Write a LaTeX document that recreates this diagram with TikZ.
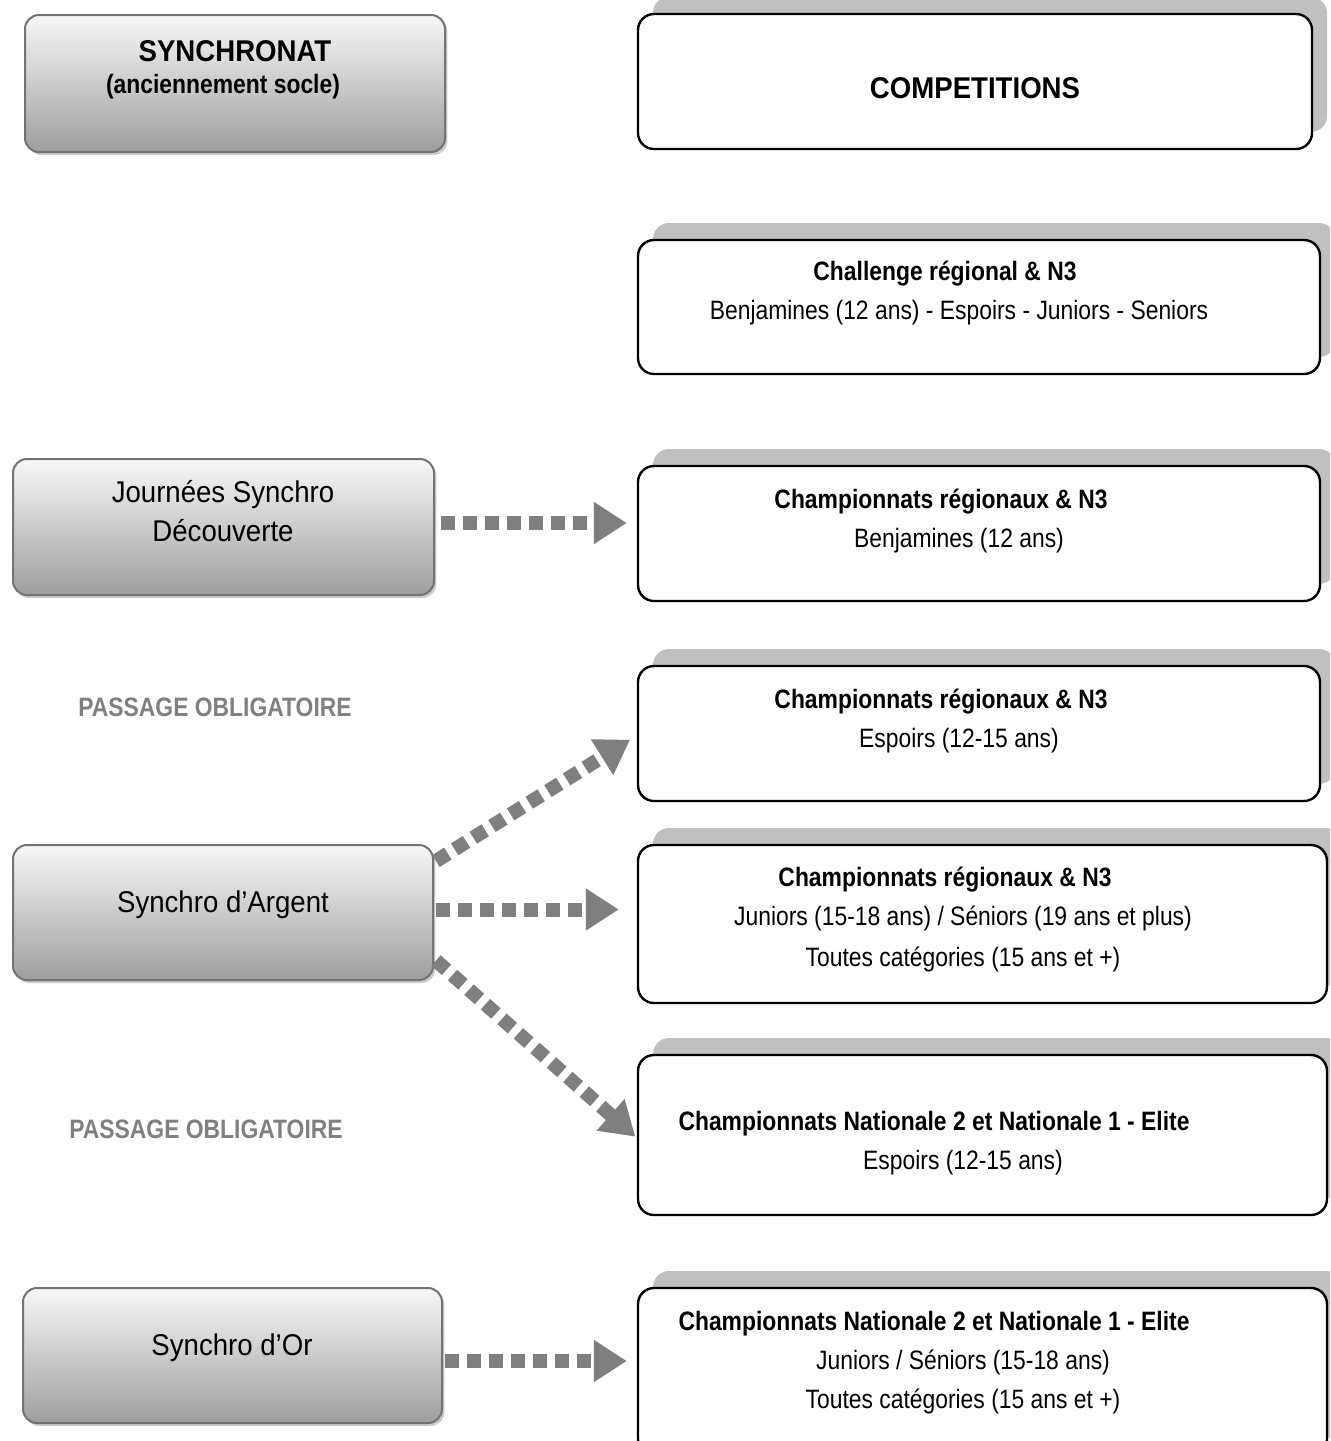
\documentclass[tikz,border=0pt]{standalone}
\usepackage{fontspec}
\setmainfont{Liberation Sans}[FakeStretch=0.86]
\newfontfamily\bigfont{Liberation Sans}[FakeStretch=0.92]
\usetikzlibrary{arrows.meta,shadows,calc}
\definecolor{arrowgray}{HTML}{7F7F7F}
\definecolor{shadowgray}{HTML}{C0C0C0}
\definecolor{passgray}{HTML}{808080}
\tikzset{
  leftbox/.style={draw=black!55, line width=1pt, rounded corners=7pt,
    top color=black!3, bottom color=black!38,
    drop shadow={shadow xshift=1.2pt, shadow yshift=-1.5pt, fill=black!40, opacity=0.5},
    inner sep=0pt},
  rightbox/.style={draw=black, line width=1.2pt, fill=white, rounded corners=8pt,
    general shadow={shadow xshift=7.5pt, shadow yshift=8.5pt, fill=shadowgray},
    inner sep=0pt},
  hd/.style={font=\bfseries\fontsize{13.3}{15}\selectfont, inner sep=0pt},
  tx/.style={font=\fontsize{13.3}{15}\selectfont, inner sep=0pt},
  lt/.style={font=\bigfont\fontsize{15}{17}\selectfont, inner sep=0pt},
  bt/.style={font=\bigfont\bfseries\fontsize{15}{17}\selectfont, inner sep=0pt},
  pass/.style={font=\bfseries\fontsize{13.3}{15}\selectfont, text=passgray, inner sep=0pt},
  arr/.style={draw=arrowgray, line width=7pt, dash pattern=on 7pt off 4pt,
    -{Triangle[length=16.5pt,width=20pt]}}
}
\begin{document}
\begin{tikzpicture}[x=0.5pt,y=-0.5pt]
\clip (0,0) rectangle (1330,1441);
\fill[white] (0,0) rectangle (1330,1441);
% left boxes
\node[leftbox, minimum width=210pt, minimum height=68.5pt] (sync) at (235,83.5) {};
\node[leftbox, minimum width=210.5pt, minimum height=68pt] (journ) at (223.5,527) {};
\node[leftbox, minimum width=210pt, minimum height=67.5pt] (arg) at (223,912.5) {};
\node[leftbox, minimum width=209.5pt, minimum height=67.5pt] (or) at (232.5,1355.5) {};
% right boxes
\node[rightbox, minimum width=337pt, minimum height=67.5pt] (comp) at (975,81.5) {};
\node[rightbox, minimum width=341pt, minimum height=67pt] (chal) at (979,307) {};
\node[rightbox, minimum width=341pt, minimum height=67.5pt] (benj) at (979,533.5) {};
\node[rightbox, minimum width=341pt, minimum height=67.5pt] (esp) at (979,733.5) {};
\node[rightbox, minimum width=344.5pt, minimum height=79pt] (jun) at (982.5,924) {};
\node[rightbox, minimum width=344.5pt, minimum height=80pt] (nat) at (982.5,1135) {};
\node[rightbox, minimum width=344.5pt, minimum height=83.5pt] (nattwo) at (982.5,1371.5) {};
% left texts
\node[bt] (t1) at (235,51) {SYNCHRONAT};
\node[hd] (t2) at (223,87) {(anciennement socle)};
\node[lt] (t3) at (223,495) {Journées Synchro};
\node[lt] (t4) at (223,531) {Découverte};
\node[lt] (t5) at (223,905) {Synchro d’Argent};
\node[lt] (t6) at (232,1348) {Synchro d’Or};
\node[pass] (p1) at (215,707) {PASSAGE OBLIGATOIRE};
\node[pass] (p2) at (206,1129) {PASSAGE OBLIGATOIRE};
% right texts
\node[bt] (c0) at (975,88) {COMPETITIONS};
\node[hd] (c1) at (945,274) {Challenge régional \& N3};
\node[tx] (c2) at (959,313) {Benjamines (12 ans) - Espoirs - Juniors - Seniors};
\node[hd] (b1) at (941,502) {Championnats régionaux \& N3};
\node[tx] (b2) at (959,541) {Benjamines (12 ans)};
\node[hd] (e1) at (941,702) {Championnats régionaux \& N3};
\node[tx] (e2) at (959,741) {Espoirs (12-15 ans)};
\node[hd] (j1) at (945,880) {Championnats régionaux \& N3};
\node[tx] (j2) at (963,918) {Juniors (15-18 ans) / Séniors (19 ans et plus)};
\node[tx] (j3) at (963,959) {Toutes catégories (15 ans et +)};
\node[hd] (n1) at (934,1124) {Championnats Nationale 2 et Nationale 1 - Elite};
\node[tx] (n2) at (963,1163) {Espoirs (12-15 ans)};
\node[hd] (m1) at (934,1324) {Championnats Nationale 2 et Nationale 1 - Elite};
\node[tx] (m2) at (963,1362) {Juniors / Séniors (15-18 ans)};
\node[tx] (m3) at (963,1401) {Toutes catégories (15 ans et +)};
% arrows
\coordinate (a1) at ($(journ.east)+(6,-4)$);
\draw[arr, shorten >=5pt] (a1) -- (a1 -| benj.west);
\coordinate (a2) at ($(arg.north east)+(2,17)$);
\draw[arr, shorten >=4pt] (a2) -- ($(esp.west)+(0,2)$);
\coordinate (a3) at ($(arg.east)+(2,-3)$);
\draw[arr, shorten >=9pt] (a3) -- (a3 -| jun.west);
\coordinate (a4) at ($(arg.east)+(2,48)$);
\draw[arr, shorten >=1pt] (a4) -- ($(nat.west)+(0,3)$);
\coordinate (a5) at ($(or.east)+(2,5.5)$);
\draw[arr, shorten >=5pt] (a5) -- (a5 -| nattwo.west);
\end{tikzpicture}
\end{document}
